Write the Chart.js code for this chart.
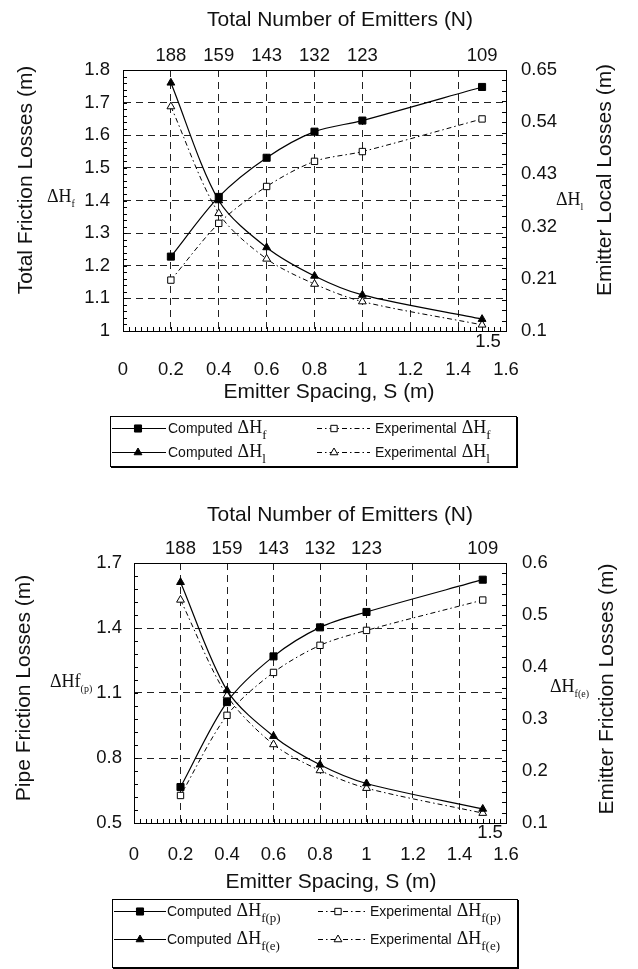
<!DOCTYPE html>
<html>
<head>
<meta charset="utf-8">
<script src="https://cdn.jsdelivr.net/npm/chart.js@4.4.1/dist/chart.umd.min.js"></script>
<style>
  body { margin: 0; background: #fff; }
  .wrap { position: absolute; left: 0; width: 638px; }
  #topWrap { top: 0; height: 475px; }
  #bottomWrap { top: 475px; height: 494px; }
</style>
</head>
<body>
<div class="wrap" id="topWrap"><canvas id="topChart" width="638" height="475"></canvas></div>
<div class="wrap" id="bottomWrap"><canvas id="bottomChart" width="638" height="494"></canvas></div>
<script>
// shared x values: emitter spacing and matching emitter count
const spacing = [0.2, 0.4, 0.6, 0.8, 1.0, 1.5];
const emitters = [188, 159, 143, 132, 123, 109];
const xTicks = [0, 0.2, 0.4, 0.6, 0.8, 1, 1.2, 1.4, 1.6];

// top chart: total friction losses (left) and emitter local losses (right)
const hfComputed = [1.228, 1.411, 1.531, 1.611, 1.645, 1.748];
const hfExperimental = [1.156, 1.330, 1.443, 1.520, 1.550, 1.650];
const hlComputed = [0.623, 0.375, 0.276, 0.216, 0.176, 0.125];
const hlExperimental = [0.573, 0.348, 0.252, 0.199, 0.162, 0.113];
const hfTicks = [1, 1.1, 1.2, 1.3, 1.4, 1.5, 1.6, 1.7, 1.8];
const hlTicks = [0.1, 0.21, 0.32, 0.43, 0.54, 0.65];

// bottom chart: pipe friction losses (left) and emitter friction losses (right)
const hfpComputed = [0.666, 1.058, 1.269, 1.403, 1.474, 1.623];
const hfpExperimental = [0.627, 0.997, 1.195, 1.320, 1.389, 1.529];
const hfeComputed = [0.563, 0.355, 0.267, 0.212, 0.176, 0.127];
const hfeExperimental = [0.529, 0.345, 0.251, 0.201, 0.167, 0.119];
const hfpTicks = [0.5, 0.8, 1.1, 1.4, 1.7];
const hfeTicks = [0.1, 0.2, 0.3, 0.4, 0.5, 0.6];

const SANS = '"Liberation Sans", Arial, sans-serif';
const SERIF = '"Liberation Serif", "Times New Roman", serif';
Chart.defaults.font.family = SANS;
Chart.defaults.color = '#111';

const pts = ys => spacing.map((s, i) => ({x: s, y: ys[i]}));
const fmt = v => String(+(+v).toFixed(2));
const fixTicks = arr => scale => { scale.ticks = arr.map(v => ({value: v})); };
const edgeGrid = c => (c.index === 0 || c.index === c.scale.ticks.length - 1) ? 'rgba(0,0,0,0)' : '#222';

function drawParts(ctx, parts, x, y) {
  ctx.textAlign = 'left';
  ctx.textBaseline = 'alphabetic';
  let cx = x;
  parts.forEach(p => {
    ctx.font = p.f;
    cx += p.dx || 0;
    ctx.fillText(p.t, cx, y + (p.dy || 0));
    cx += ctx.measureText(p.t).width;
  });
}

const dH = (sub, extra) => [
  {t: 'ΔH' + (extra || ''), f: `18px ${SERIF}`},
  {t: sub, f: `10px ${SERIF}`, dy: 5}
];
const legendParts = (name, sub) => [
  {t: name, f: `14px ${SANS}`},
  {t: 'ΔH', f: `18px ${SERIF}`, dx: 5},
  {t: sub, f: `13px ${SERIF}`, dy: 6}
];

// inward tick marks along the plot frame
const frameTicks = {
  id: 'frameTicks',
  beforeDatasetsDraw(chart, args, o) {
    const ctx = chart.ctx, a = chart.chartArea;
    ctx.save();
    ctx.strokeStyle = '#000';
    ctx.lineWidth = 1;
    ctx.beginPath();
    Object.entries(o.steps || {}).forEach(([id, step]) => {
      const sc = chart.scales[id];
      const n = Math.round((sc.max - sc.min) / step);
      for (let i = 1; i < n; i++) {
        const p = Math.round(sc.getPixelForValue(sc.min + i * step)) + 0.5;
        if (id === 'x') { ctx.moveTo(p, a.bottom); ctx.lineTo(p, a.bottom - 4); }
        if (id === 'y') { ctx.moveTo(a.left, p); ctx.lineTo(a.left + 4, p); }
        if (id === 'y2') { ctx.moveTo(a.right, p); ctx.lineTo(a.right - 4, p); }
      }
    });
    ctx.stroke();
    ctx.restore();
  }
};

// free text: titles, axis names, ΔH symbols
const sketchText = {
  id: 'sketchText',
  afterDraw(chart, args, o) {
    const ctx = chart.ctx;
    (o.items || []).forEach(it => {
      ctx.save();
      ctx.translate(it.x, it.y);
      if (it.rot) ctx.rotate(it.rot);
      ctx.fillStyle = '#111';
      if (it.parts) {
        drawParts(ctx, it.parts, 0, 0);
      } else {
        ctx.font = it.font || `21px ${SANS}`;
        ctx.textAlign = 'center';
        ctx.textBaseline = 'middle';
        ctx.fillText(it.text, 0, 0);
      }
      ctx.restore();
    });
  }
};

// boxed legend with line samples like the original figure
const sketchLegend = {
  id: 'sketchLegend',
  afterDraw(chart, args, o) {
    if (!o.items) return;
    const ctx = chart.ctx;
    const [x1, y1, x2, y2] = o.box;
    ctx.save();
    ctx.strokeStyle = '#000';
    ctx.lineWidth = 1;
    ctx.strokeRect(x1 + 0.5, y1 + 0.5, x2 - x1, y2 - y1);
    ctx.lineWidth = 2;
    ctx.beginPath();
    ctx.moveTo(x2 + 1, y1 + 1);
    ctx.lineTo(x2 + 1, y2 + 1);
    ctx.lineTo(x1 + 1, y2 + 1);
    ctx.stroke();
    o.items.forEach(it => {
      const ds = chart.data.datasets[it.ds];
      ctx.strokeStyle = ds.borderColor;
      ctx.lineWidth = ds.borderWidth;
      ctx.setLineDash(ds.borderDash || []);
      ctx.beginPath();
      ctx.moveTo(it.x, it.y + 0.5);
      ctx.lineTo(it.x + it.len, it.y + 0.5);
      ctx.stroke();
      ctx.setLineDash([]);
      ctx.fillStyle = ds.pointBackgroundColor;
      ctx.strokeStyle = ds.pointBorderColor;
      ctx.lineWidth = ds.pointBorderWidth;
      Chart.helpers.drawPoint(ctx, {pointStyle: ds.pointStyle, radius: ds.pointRadius, rotation: 0, borderWidth: ds.pointBorderWidth}, it.x + it.mark, it.y + 0.5);
      ctx.fillStyle = '#111';
      drawParts(ctx, it.parts, it.tx, it.y + 5);
    });
    ctx.restore();
  }
};

function makeDatasets(c1, e1, c2, e2) {
  const solid = {borderColor: '#000', borderWidth: 1.2, tension: 0.3, pointBorderColor: '#000', pointBackgroundColor: '#000', pointBorderWidth: 1};
  const dashed = {borderColor: '#000', borderWidth: 1, borderDash: [5, 3, 1.5, 3], tension: 0.3, pointBorderColor: '#000', pointBackgroundColor: '#fff', pointBorderWidth: 1};
  return [
    {...solid, data: pts(c1), yAxisID: 'y', pointStyle: 'rect', pointRadius: 5},
    {...dashed, data: pts(e1), yAxisID: 'y', pointStyle: 'rect', pointRadius: 4.5},
    {...solid, data: pts(c2), yAxisID: 'y2', pointStyle: 'triangle', pointRadius: 4.5},
    {...dashed, data: pts(e2), yAxisID: 'y2', pointStyle: 'triangle', pointRadius: 4.5}
  ];
}

function makeScales(o) {
  const tickFont = {size: 18.5};
  return {
    x: {
      type: 'linear', position: 'bottom', min: 0, max: 1.6,
      afterBuildTicks: fixTicks(xTicks),
      afterFit: s => { s.height = o.bottomH; },
      grid: {color: edgeGrid, lineWidth: 1, drawTicks: false},
      border: {color: '#000', width: 1, dash: [7, 5]},
      ticks: {padding: o.xPad, maxRotation: 0, autoSkip: false, callback: fmt, font: tickFont}
    },
    x2: {
      type: 'linear', position: 'top', min: 0, max: 1.6,
      afterBuildTicks: fixTicks(spacing),
      afterFit: s => { s.height = o.topH; },
      grid: {display: false, drawTicks: false},
      border: {color: '#000', width: 1},
      ticks: {padding: 3, maxRotation: 0, autoSkip: false, callback: (v, i) => emitters[i], font: tickFont}
    },
    y: {
      type: 'linear', position: 'left', min: o.yTicks[0], max: o.yTicks[o.yTicks.length - 1],
      afterBuildTicks: fixTicks(o.yTicks),
      afterFit: s => { s.width = o.leftW; },
      grid: {color: edgeGrid, lineWidth: 1, drawTicks: false},
      border: {color: '#000', width: 1, dash: [7, 5]},
      ticks: {padding: o.yPad, autoSkip: false, callback: fmt, font: tickFont}
    },
    y2: {
      type: 'linear', position: 'right', min: o.y2Ticks[0], max: o.y2Ticks[o.y2Ticks.length - 1],
      afterBuildTicks: fixTicks(o.y2Ticks),
      afterFit: s => { s.width = 132; },
      grid: {display: false, drawTicks: false},
      border: {color: '#000', width: 1},
      ticks: {padding: o.y2Pad, autoSkip: false, callback: fmt, font: tickFont}
    }
  };
}

const common = {
  responsive: false,
  animation: false,
  devicePixelRatio: 1,
  layout: {padding: 0},
  events: []
};

// Top chart
new Chart(document.getElementById('topChart'), {
  type: 'line',
  data: {datasets: makeDatasets(hfComputed, hfExperimental, hlComputed, hlExperimental)},
  options: {
    ...common,
    scales: makeScales({bottomH: 144, topH: 70, leftW: 123, xPad: 28, yPad: 13, y2Pad: 15, yTicks: hfTicks, y2Ticks: hlTicks}),
    plugins: {
      legend: {display: false},
      tooltip: {enabled: false},
      frameTicks: {steps: {x: 0.025, y: 0.02, y2: 0.022}},
      sketchText: {items: [
        {text: 'Total Number of Emitters (N)', x: 340, y: 20},
        {text: 'Total Friction Losses (m)', x: 26, y: 180, rot: -Math.PI / 2},
        {text: 'Emitter Local Losses (m)', x: 605, y: 180, rot: -Math.PI / 2},
        {text: 'Emitter Spacing, S (m)', x: 329, y: 392},
        {text: '1.5', x: 488, y: 342, font: `18.5px ${SANS}`},
        {parts: dH('f'), x: 47, y: 202},
        {parts: dH('l'), x: 556, y: 205}
      ]},
      sketchLegend: {
        box: [110, 416, 516, 466],
        items: [
          {ds: 0, x: 112, len: 54, mark: 26, tx: 168, y: 428, parts: legendParts('Computed', 'f')},
          {ds: 1, x: 317, len: 53, mark: 17, tx: 375, y: 428, parts: legendParts('Experimental', 'f')},
          {ds: 2, x: 112, len: 54, mark: 26, tx: 168, y: 452, parts: legendParts('Computed', 'l')},
          {ds: 3, x: 317, len: 53, mark: 17, tx: 375, y: 452, parts: legendParts('Experimental', 'l')}
        ]
      }
    }
  },
  plugins: [frameTicks, sketchText, sketchLegend]
});

// Bottom chart
new Chart(document.getElementById('bottomChart'), {
  type: 'line',
  data: {datasets: makeDatasets(hfpComputed, hfpExperimental, hfeComputed, hfeExperimental)},
  options: {
    ...common,
    scales: makeScales({bottomH: 146, topH: 88, leftW: 134, xPad: 21, yPad: 12, y2Pad: 16, yTicks: hfpTicks, y2Ticks: hfeTicks}),
    plugins: {
      legend: {display: false},
      tooltip: {enabled: false},
      frameTicks: {steps: {x: 0.025, y: 0.06, y2: 0.02}},
      sketchText: {items: [
        {text: 'Total Number of Emitters (N)', x: 340, y: 40},
        {text: 'Pipe Friction Losses (m)', x: 24, y: 213, rot: -Math.PI / 2},
        {text: 'Emitter Friction Losses (m)', x: 607, y: 214, rot: -Math.PI / 2},
        {text: 'Emitter Spacing, S (m)', x: 331, y: 407},
        {text: '1.5', x: 490, y: 358, font: `18.5px ${SANS}`},
        {parts: dH('(p)', 'f'), x: 50, y: 212},
        {parts: dH('f(e)'), x: 550, y: 217}
      ]},
      sketchLegend: {
        box: [112, 424, 517, 492],
        items: [
          {ds: 0, x: 114, len: 52, mark: 26, tx: 167, y: 436, parts: legendParts('Computed', 'f(p)')},
          {ds: 1, x: 318, len: 49, mark: 20, tx: 370, y: 436, parts: legendParts('Experimental', 'f(p)')},
          {ds: 2, x: 114, len: 52, mark: 26, tx: 167, y: 464, parts: legendParts('Computed', 'f(e)')},
          {ds: 3, x: 318, len: 49, mark: 20, tx: 370, y: 464, parts: legendParts('Experimental', 'f(e)')}
        ]
      }
    }
  },
  plugins: [frameTicks, sketchText, sketchLegend]
});
</script>
</body>
</html>
